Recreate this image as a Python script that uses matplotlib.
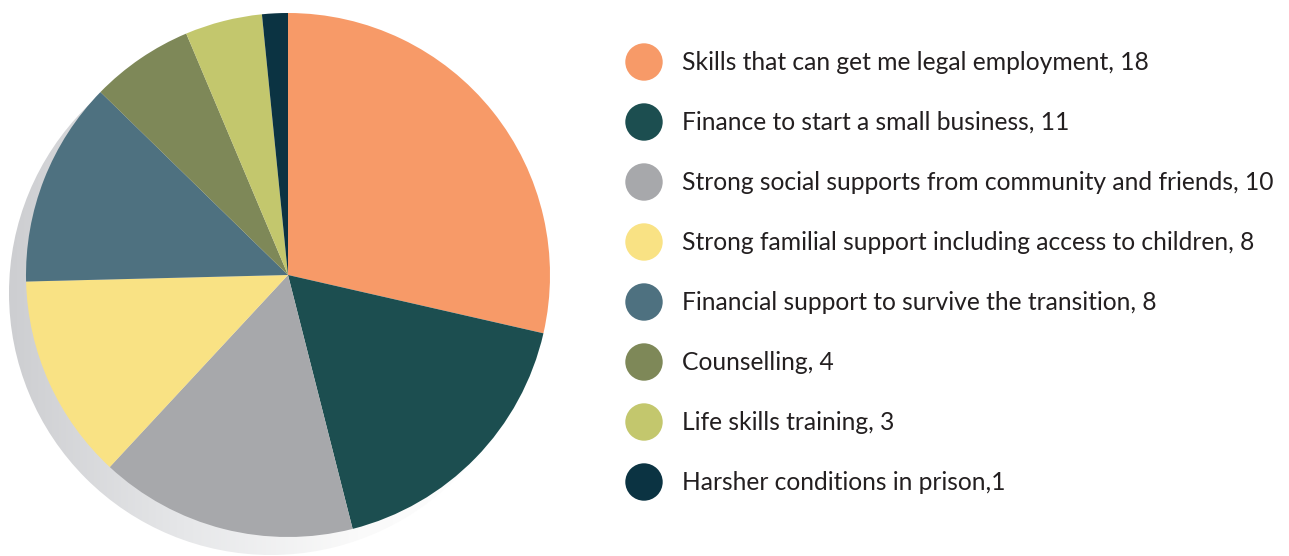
import matplotlib
matplotlib.use("Agg")
import matplotlib.pyplot as plt
import numpy as np
from matplotlib.patches import Circle
from matplotlib.colors import LinearSegmentedColormap

labels = [
    "Skills that can get me legal employment, 18",
    "Finance to start a small business, 11",
    "Strong social supports from community and friends, 10",
    "Strong familial support including access to children, 8",
    "Financial support to survive the transition, 8",
    "Counselling, 4",
    "Life skills training, 3",
    "Harsher conditions in prison,1",
]
values = [18, 11, 10, 8, 8, 4, 3, 1]
colors = ["#F79A68", "#1C4E50", "#A7A8AB", "#F9E284",
          "#4E7180", "#7E8858", "#C3C76D", "#0B3342"]

W, H = 1289, 556
fig = plt.figure(figsize=(W / 100, H / 100), dpi=100)
ax = fig.add_axes([0, 0, 1, 1])
ax.set_xlim(0, W)
ax.set_ylim(0, H)
ax.set_aspect("equal")
ax.axis("off")

cx, cy, r = 288, H - 275, 262

# shadow with horizontal gradient
scx, scy = 271, H - 293
cmap = LinearSegmentedColormap.from_list("sh", ["#cdced1", "#e6e7e9", "#fafafa", "#ffffff"])
grad = np.tile(np.linspace(0, 1, 256), (64, 1))
im = ax.imshow(grad, cmap=cmap, extent=[scx - r, scx + r, scy - r, scy + r],
               origin="lower", aspect="auto", zorder=1, interpolation="bilinear")
clip = Circle((scx, scy), r, transform=ax.transData, facecolor="none", edgecolor="none")
ax.add_patch(clip)
im.set_clip_path(clip)

ax.pie(values, colors=colors, startangle=90, counterclock=False,
       center=(cx, cy), radius=r, wedgeprops=dict(linewidth=0), frame=True)
for w in ax.patches:
    if w is not clip:
        w.set_zorder(2)
ax.set_xlim(0, W)
ax.set_ylim(0, H)
ax.axis("off")

y0, dy = H - 62, 60.0
for i, (lab, col) in enumerate(zip(labels, colors)):
    y = y0 - i * dy
    ax.add_patch(Circle((644, y), 18.7, facecolor=col, edgecolor="none", zorder=3))
    ax.text(682, y, lab, fontsize=17.7, color="#231f20", va="center", ha="left",
            family=["Lato", "DejaVu Sans"], zorder=3)

fig.savefig("out.png", dpi=100)
